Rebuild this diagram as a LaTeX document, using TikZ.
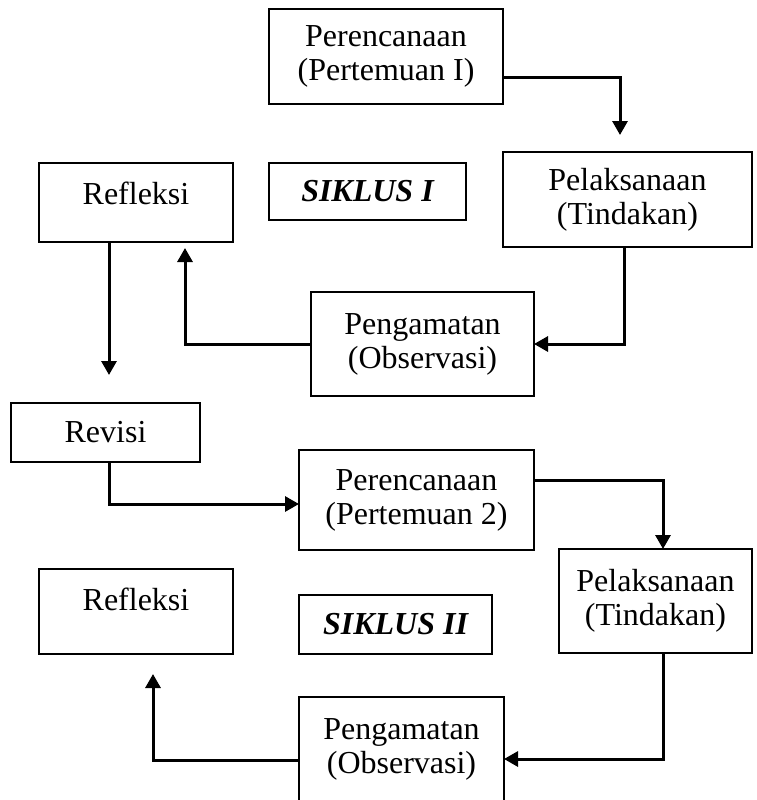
\documentclass[tikz,border=0pt]{standalone}
\usepackage{fontspec}
\setmainfont{Liberation Serif}
\usetikzlibrary{arrows.meta,calc}

\tikzset{
  box/.style={draw,line width=2pt,align=center,inner sep=0pt,outer sep=0pt},
  arr/.style={-{Triangle[width=15pt,length=14pt]},line width=3pt},
  cyc/.style={font=\fontsize{32}{34}\selectfont\bfseries\itshape}
}

\begin{document}
\begin{tikzpicture}[x=1pt,y=-1pt,font=\fontsize{32}{34}\selectfont]
  \useasboundingbox (0,0) rectangle (756,800);

  % siklus I
  \node[box,minimum width=234pt,minimum height=95pt] (per1) at (386,56.5) {Perencanaan\\(Pertemuan I)};
  \node[box,minimum width=194pt,minimum height=79pt,text depth=19pt] (ref1) at (136,202.5) {Refleksi};
  \node[box,cyc,minimum width=197pt,minimum height=57pt] (sik1) at (367.5,191.5) {SIKLUS I};
  \node[box,minimum width=249pt,minimum height=95pt] (pel1) at (627.5,199.5) {Pelaksanaan\\(Tindakan)};
  \node[box,minimum width=223pt,minimum height=104pt] (pen1) at (422.5,344) {Pengamatan\\(Observasi)};
  \node[box,minimum width=189pt,minimum height=59pt] (rev) at (105.5,432.5) {Revisi};

  % siklus II
  \node[box,minimum width=235pt,minimum height=100pt] (per2) at (416.5,500) {Perencanaan\\(Pertemuan 2)};
  \node[box,minimum width=193pt,minimum height=104pt] (pel2) at (655.5,601) {Pelaksanaan\\(Tindakan)};
  \node[box,minimum width=194pt,minimum height=85pt,text depth=25pt] (ref2) at (136,611.5) {Refleksi};
  \node[box,cyc,minimum width=193pt,minimum height=59pt] (sik2) at (395.5,624.5) {SIKLUS II};
  \node[box,minimum width=205pt,minimum height=104pt] (pen2) at (401.5,749) {Pengamatan\\(Observasi)};

  % alur
  \draw[arr,shorten >=17pt] ([yshift=-20.5pt]per1.east) -| ([xshift=-7.5pt]pel1.north);
  \draw[arr] ([xshift=-3.5pt]pel1.south) |- (pen1.east);
  \draw[arr,shorten >=6pt] (pen1.west) -| ([xshift=49pt]ref1.south);
  \draw[arr,shorten >=28pt] ([xshift=-27pt]ref1.south) -- ([xshift=3.5pt]rev.north);
  \draw[arr] ([xshift=3.5pt]rev.south) |- ([yshift=-4pt]per2.west);
  \draw[arr] ([yshift=20pt]per2.east) -| ([xshift=7.5pt]pel2.north);
  \draw[arr] ([xshift=7.5pt]pel2.south) |- ([yshift=-10pt]pen2.east);
  \draw[arr,shorten >=20pt] ([yshift=-11pt]pen2.west) -| ([xshift=17pt]ref2.south);
\end{tikzpicture}
\end{document}
